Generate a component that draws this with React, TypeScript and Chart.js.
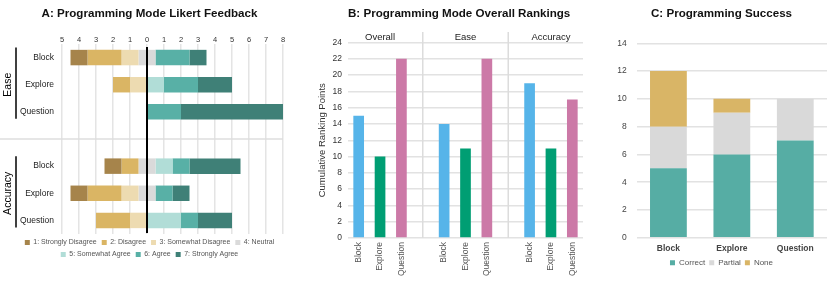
import React, { useEffect, useRef } from 'react';
import { Chart, registerables } from 'chart.js';

Chart.register(...registerables);

const FONT = "'Liberation Sans', Arial, Helvetica, sans-serif";

// ---------------- Panel A: Likert feedback ----------------
const likertTitle = 'A: Programming Mode Likert Feedback';
const likertRowLabels = ['Block', 'Explore', 'Question', '', 'Block', 'Explore', 'Question'];
const likertGroups = ['Ease', 'Accuracy'];
const likertLevels = [
  '1: Strongly Disagree',
  '2: Disagree',
  '3: Somewhat Disagree',
  '4: Neutral',
  '5: Somewhat Agree',
  '6: Agree',
  '7: Strongly Agree',
];
const likertColors = ['#A6844B', '#DAB564', '#EDDBB1', '#DADADA', '#B1DDD7', '#58B0A6', '#3F8077'];
// rows: Ease Block, Ease Explore, Ease Question, Accuracy Block, Accuracy Explore, Accuracy Question
const stronglyDisagree = [1, 0, 0, 1, 1, 0];
const disagree = [2, 1, 0, 1, 2, 2];
const somewhatDisagree = [1, 1, 0, 0, 1, 1];
const neutral = [1, 0, 0, 1, 1, 0];
const somewhatAgree = [0, 1, 0, 1, 0, 2];
const agree = [2, 2, 2, 1, 1, 1];
const stronglyAgree = [1, 2, 6, 3, 1, 2];
const likertMin = -5;
const likertMax = 8;

// ---------------- Panel B: Rankings ----------------
const rankTitle = 'B: Programming Mode Overall Rankings';
const rankGroups = ['Overall', 'Ease', 'Accuracy'];
const modes = ['Block', 'Explore', 'Question'];
const modeColors = ['#56B4E9', '#009E73', '#CC79A7'];
const blockPoints = [15, 14, 19];
const explorePoints = [10, 11, 11];
const questionPoints = [22, 22, 17];
const rankAxisTitle = 'Cumulative Ranking Points';

// ---------------- Panel C: Success ----------------
const successTitle = 'C: Programming Success';
const successCategories = ['Block', 'Explore', 'Question'];
const correctCounts = [5, 6, 7];
const partialCounts = [3, 3, 3];
const noneCounts = [4, 1, 0];
const successColors = ['#56ADA4', '#D9D9D9', '#D9B566'];

// ---------------- builders ----------------
function buildLikertDatasets() {
  const counts = [stronglyDisagree, disagree, somewhatDisagree, neutral, somewhatAgree, agree, stronglyAgree];
  const ranges: any[][] = counts.map(() => []);
  for (let r = 0; r < neutral.length; r++) {
    const half = neutral[r] / 2;
    let left = -half;
    for (const i of [2, 1, 0]) {
      const c = counts[i][r];
      ranges[i].push(c ? [left - c, left] : null);
      left -= c;
    }
    ranges[3].push(neutral[r] ? [-half, half] : null);
    let right = half;
    for (const i of [4, 5, 6]) {
      const c = counts[i][r];
      ranges[i].push(c ? [right, right + c] : null);
      right += c;
    }
  }
  ranges.forEach((a) => a.splice(3, 0, null));
  return ranges.map((d, i) => ({
    label: likertLevels[i],
    data: d,
    backgroundColor: likertColors[i],
    grouped: false,
    barPercentage: 0.57,
    categoryPercentage: 1,
    borderSkipped: false,
  }));
}

const likertDecor = {
  id: 'likertDecor',
  afterDatasetsDraw(chart: any) {
    const { ctx, chartArea, scales } = chart;
    const x = scales.x;
    const y = scales.y;
    ctx.save();
    const sepY = y.getPixelForValue(3);
    ctx.strokeStyle = '#dedede';
    ctx.lineWidth = 1.5;
    ctx.beginPath();
    ctx.moveTo(0, sepY);
    ctx.lineTo(chartArea.right, sepY);
    ctx.stroke();
    const x0 = x.getPixelForValue(0);
    ctx.strokeStyle = '#000';
    ctx.lineWidth = 2;
    ctx.beginPath();
    ctx.moveTo(x0, chartArea.top + 3);
    ctx.lineTo(x0, chartArea.bottom - 1);
    ctx.stroke();
    const spans = [[0, 2], [4, 6]];
    likertGroups.forEach((name, i) => {
      const ya = y.getPixelForValue(spans[i][0]);
      const yb = y.getPixelForValue(spans[i][1]);
      ctx.strokeStyle = '#000';
      ctx.lineWidth = 1.5;
      ctx.beginPath();
      ctx.moveTo(16, ya - 10);
      ctx.lineTo(16, yb + 7);
      ctx.stroke();
      ctx.save();
      ctx.translate(8.5, (ya + yb) / 2);
      ctx.rotate(-Math.PI / 2);
      ctx.font = `10.5px ${FONT}`;
      ctx.fillStyle = '#000';
      ctx.textAlign = 'center';
      ctx.textBaseline = 'middle';
      ctx.fillText(name, 0, 0);
      ctx.restore();
    });
    ctx.restore();
  },
};

function buildRankData() {
  const labels: string[] = [];
  const values: (number | null)[] = [];
  const colors: string[] = [];
  const series = [blockPoints, explorePoints, questionPoints];
  rankGroups.forEach((_, g) => {
    if (g > 0) {
      labels.push('');
      values.push(null);
      colors.push('#fff');
    }
    modes.forEach((m, k) => {
      labels.push(m);
      values.push(series[k][g]);
      colors.push(modeColors[k]);
    });
  });
  return { labels, values, colors };
}

const rankDecor = {
  id: 'rankDecor',
  afterDatasetsDraw(chart: any) {
    const { ctx, chartArea, scales } = chart;
    const x = scales.x;
    ctx.save();
    ctx.strokeStyle = '#dcdcdc';
    ctx.lineWidth = 1.5;
    [3, 7].forEach((idx) => {
      const px = x.getPixelForValue(idx);
      ctx.beginPath();
      ctx.moveTo(px, 32);
      ctx.lineTo(px, chartArea.bottom);
      ctx.stroke();
    });
    ctx.font = `9.5px ${FONT}`;
    ctx.fillStyle = '#222';
    ctx.textAlign = 'center';
    ctx.textBaseline = 'middle';
    rankGroups.forEach((g, i) => {
      const px = x.getPixelForValue(i * 4 + 1);
      ctx.fillText(g, px, 37);
    });
    ctx.restore();
  },
};

function PanelA() {
  const ref = useRef<HTMLCanvasElement>(null);
  useEffect(() => {
    const chart = new Chart(ref.current as HTMLCanvasElement, {
      type: 'bar',
      data: { labels: likertRowLabels, datasets: buildLikertDatasets() as any },
      options: {
        animation: false,
        responsive: false,
        indexAxis: 'y',
        events: [],
        layout: { padding: { left: 16, right: 7, top: 0, bottom: 15 } },
        scales: {
          x: {
            position: 'top',
            min: likertMin,
            max: likertMax,
            ticks: {
              stepSize: 1,
              autoSkip: false,
              padding: 0,
              color: '#333',
              font: { size: 7.5, family: FONT },
              callback: (v: any) => String(Math.abs(Number(v))),
            },
            grid: { color: '#e4e4e4', lineWidth: 1.5, drawTicks: false },
            border: { display: false },
            afterFit: (s: any) => {
              s.height = 23.08;
            },
          },
          y: {
            ticks: { color: '#222', padding: 8, font: { size: 8.5, family: FONT } },
            grid: { display: false, drawTicks: false },
            border: { display: false },
            afterFit: (s: any) => {
              s.width = 46;
            },
          },
        },
        plugins: {
          title: {
            display: true,
            text: likertTitle,
            color: '#111',
            font: { size: 11.6, weight: 'bold', family: FONT },
            padding: { top: 7, bottom: 0 },
          },
          legend: {
            position: 'bottom',
            labels: {
              boxWidth: 5,
              boxHeight: 5,
              padding: 5,
              color: '#555',
              font: { size: 7, family: FONT },
            },
          },
          tooltip: { enabled: false },
        },
      } as any,
      plugins: [likertDecor],
    });
    return () => chart.destroy();
  }, []);
  return <canvas ref={ref} width={290} height={283} style={{ position: 'absolute', left: 0, top: 0 }} />;
}

function PanelB() {
  const ref = useRef<HTMLCanvasElement>(null);
  useEffect(() => {
    const { labels, values, colors } = buildRankData();
    const chart = new Chart(ref.current as HTMLCanvasElement, {
      type: 'bar',
      data: {
        labels,
        datasets: [
          {
            label: rankAxisTitle,
            data: values,
            backgroundColor: colors,
            barPercentage: 0.5,
            categoryPercentage: 1,
          },
        ],
      },
      options: {
        animation: false,
        responsive: false,
        events: [],
        layout: { padding: { left: 23, right: 17, top: 0, bottom: 0 } },
        scales: {
          x: {
            ticks: {
              autoSkip: false,
              minRotation: 90,
              maxRotation: 90,
              padding: 4,
              color: '#555',
              font: { size: 8.5, family: FONT },
            },
            grid: { display: false, drawTicks: false },
            border: { display: false },
            afterFit: (s: any) => {
              s.height = 45;
            },
          },
          y: {
            min: 0,
            max: 24,
            ticks: { stepSize: 2, padding: 6, color: '#333', font: { size: 8.5, family: FONT } },
            grid: { color: '#e2e2e2', lineWidth: 1.5, drawTicks: false },
            border: { display: false },
            title: {
              display: true,
              text: rankAxisTitle,
              color: '#333',
              font: { size: 9.5, family: FONT },
              padding: { top: 4, bottom: 4 },
            },
            afterFit: (s: any) => {
              s.width = 35;
            },
          },
        },
        plugins: {
          title: {
            display: true,
            text: rankTitle,
            align: 'start',
            fullSize: false,
            color: '#111',
            font: { size: 11.6, weight: 'bold', family: FONT },
            padding: { top: 7, bottom: 21.58 },
          },
          legend: { display: false },
          tooltip: { enabled: false },
        },
      } as any,
      plugins: [rankDecor],
    });
    return () => chart.destroy();
  }, []);
  return <canvas ref={ref} width={310} height={283} style={{ position: 'absolute', left: 290, top: 0 }} />;
}

function PanelC() {
  const ref = useRef<HTMLCanvasElement>(null);
  useEffect(() => {
    const series = [
      { label: 'Correct', data: correctCounts },
      { label: 'Partial', data: partialCounts },
      { label: 'None', data: noneCounts },
    ];
    const chart = new Chart(ref.current as HTMLCanvasElement, {
      type: 'bar',
      data: {
        labels: successCategories,
        datasets: series.map((s, i) => ({
          label: s.label,
          data: s.data,
          backgroundColor: successColors[i],
          barPercentage: 0.58,
          categoryPercentage: 1,
        })),
      },
      options: {
        animation: false,
        responsive: false,
        events: [],
        layout: { padding: { left: 16, right: 3, top: 0, bottom: 6.3 } },
        scales: {
          x: {
            stacked: true,
            ticks: { padding: 6, color: '#444', font: { size: 8.5, weight: 'bold', family: FONT } },
            grid: { display: false, drawTicks: false },
            border: { display: false },
            afterFit: (s: any) => {
              s.height = 17;
            },
          },
          y: {
            stacked: true,
            min: 0,
            max: 14,
            ticks: { stepSize: 2, padding: 10, color: '#444', font: { size: 8.5, family: FONT } },
            grid: { color: '#e2e2e2', lineWidth: 1.5, drawTicks: false },
            border: { display: false },
            afterFit: (s: any) => {
              s.width = 20.7;
            },
          },
        },
        plugins: {
          title: {
            display: true,
            text: successTitle,
            color: '#111',
            font: { size: 11.6, weight: 'bold', family: FONT },
            padding: { top: 7, bottom: 22.4 },
          },
          legend: {
            position: 'bottom',
            labels: {
              boxWidth: 5,
              boxHeight: 5,
              padding: 4,
              color: '#555',
              font: { size: 8, family: FONT },
            },
          },
          tooltip: { enabled: false },
        },
      } as any,
    });
    return () => chart.destroy();
  }, []);
  return <canvas ref={ref} width={230} height={283} style={{ position: 'absolute', left: 600, top: 0 }} />;
}

export default function App() {
  return (
    <div style={{ position: 'absolute', left: 0, top: 0, width: 830, height: 283, background: '#fff', overflow: 'hidden' }}>
      <PanelA />
      <PanelB />
      <PanelC />
    </div>
  );
}
